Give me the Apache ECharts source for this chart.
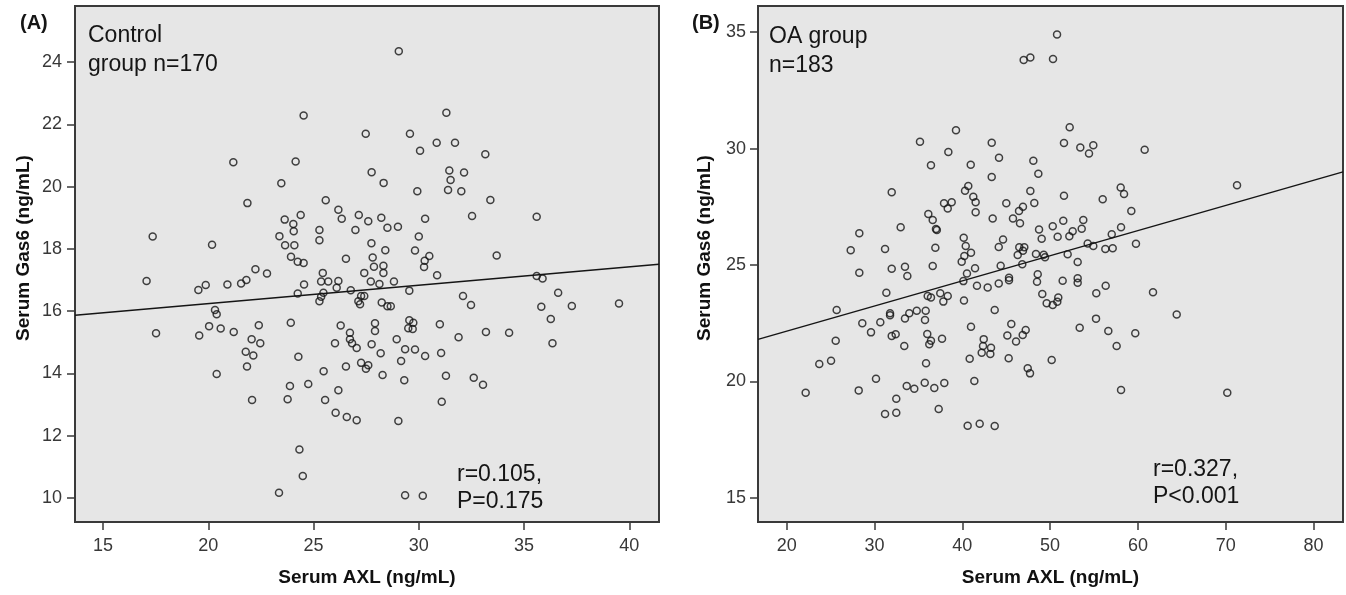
<!DOCTYPE html>
<html>
<head>
<meta charset="utf-8">
<script src="https://cdn.jsdelivr.net/npm/echarts@6/dist/echarts.min.js"></script>
<style>
html, body {margin:0; padding:0; background:#fff;}
#chart {width:1346px; height:595px;}
</style>
</head>
<body>
<div id="chart"></div>
<script>
// (A) control group, n=170
let axlA = [
    24.53,27.48,21.19,24.15,27.76,23.47,21.86,25.58,26.18,26.34,27.15,27.60,26.99,24.39,23.63,24.04,24.06,25.28,25.28,23.38,
    23.65,24.09,17.36,20.18,27.75,23.93,24.25,24.53,26.54,27.81,27.87,22.24,22.79,25.44,27.41,
    29.05,31.31,29.58,30.85,31.72,30.06,33.16,28.33,31.45,32.15,31.51,31.39,32.02,29.93,33.40,32.53,35.60,28.22,28.51,29.01,
    30.30,30.00,28.41,29.82,30.50,30.28,30.25,33.70,28.32,28.32,30.87,
    17.07,19.53,19.88,20.91,21.56,21.81,24.25,24.55,25.36,25.70,25.28,25.36,25.47,26.18,26.10,26.77,27.72,27.26,27.13,27.21,
    27.41,20.32,20.40,17.52,19.57,20.04,20.59,21.21,22.40,22.06,22.47,21.78,22.14,21.84,20.40,23.92,24.28,23.88,23.77,22.08,
    24.75,25.48,25.55,26.18,26.05,26.58,27.05,26.54,27.26,27.49,27.60,26.02,26.29,26.73,26.73,26.83,27.05,27.76,27.92,27.92,
    24.33,24.49,23.36,
    35.60,35.88,36.62,35.82,37.27,39.51,36.27,36.35,34.29,33.19,31.89,32.10,32.48,29.55,28.82,28.13,28.24,28.51,28.67,29.55,
    29.74,29.50,29.71,31.00,28.95,28.19,29.35,29.82,30.30,31.06,29.16,28.28,29.31,31.29,32.61,33.05,31.09,29.03,29.35,30.19
];
let gas6A = [
    22.28,21.70,20.78,20.81,20.46,20.11,19.47,19.56,19.26,18.97,19.09,18.89,18.61,19.09,18.94,18.80,18.57,18.61,18.28,18.41,
    18.12,18.12,18.40,18.13,18.18,17.75,17.59,17.55,17.68,17.72,17.43,17.35,17.21,17.23,17.23,
    24.35,22.37,21.70,21.41,21.41,21.15,21.04,20.12,20.52,20.45,20.21,19.89,19.85,19.85,19.57,19.06,19.03,19.00,18.68,18.71,
    18.97,18.40,17.96,17.95,17.77,17.62,17.42,17.79,17.46,17.23,17.15,
    16.97,16.68,16.84,16.86,16.89,17.00,16.57,16.86,16.95,16.95,16.32,16.46,16.59,16.97,16.75,16.67,16.95,16.49,16.32,16.22,
    16.49,16.04,15.90,15.29,15.22,15.52,15.44,15.33,15.55,15.10,14.97,14.70,14.58,14.22,13.98,15.63,14.54,13.60,13.17,13.15,
    13.66,14.07,13.15,13.46,12.74,12.60,12.50,14.22,14.34,14.15,14.26,14.97,15.54,15.31,15.10,14.97,14.82,14.94,15.61,15.36,
    11.56,10.71,10.17,
    17.13,17.05,16.59,16.14,16.17,16.25,15.75,14.97,15.31,15.33,15.16,16.49,16.20,16.66,16.95,16.87,16.28,16.16,16.16,15.71,
    15.63,15.45,15.43,15.58,15.10,14.65,14.78,14.77,14.56,14.66,14.40,13.95,13.78,13.93,13.86,13.64,13.09,12.47,10.09,10.07
];
let fitA = [[13.67, 15.87], [41.41, 17.51]];
let xTicksA = [15, 20, 25, 30, 35, 40];
let yTicksA = [10, 12, 14, 16, 18, 20, 22, 24];

// (B) OA group, n=183
let axlB = [
    46.99,47.75,39.28,35.18,43.35,38.41,44.18,36.43,40.96,48.09,48.66,43.35,40.68,40.31,31.96,47.75,41.25,41.52,41.52,37.92,
    38.79,38.34,45.01,48.20,46.91,46.46,45.77,46.57,43.46,36.13,36.63,37.00,37.10,32.98,28.27,27.29,31.20,36.93,40.16,40.39,
    40.99,40.23,39.93,44.64,44.15,46.49,47.06,46.91,46.31,48.74,49.04,50.30,48.39,49.27,49.42,36.63,33.47,31.96,28.27,41.45,
    44.37,46.83,48.59,33.74,
    50.79,50.33,52.23,51.58,53.44,54.92,54.43,60.77,71.29,51.58,58.04,58.42,55.99,59.25,51.50,50.86,52.19,52.57,53.78,53.60,
    58.08,57.02,54.28,54.92,56.29,57.13,59.78,52.00,53.14,
    40.53,40.12,41.67,42.89,44.15,45.32,45.32,48.51,49.11,31.35,25.69,28.61,29.60,30.66,31.77,31.77,31.96,32.41,33.39,33.47,
    33.96,34.81,35.83,35.75,36.06,36.43,37.49,37.84,38.34,36.01,36.43,36.24,37.69,35.87,40.19,43.69,40.99,42.44,42.36,42.21,
    43.27,43.19,40.84,45.58,45.13,46.12,46.88,47.22,45.28,47.45,47.71,50.18,41.37,22.16,23.71,25.05,25.58,28.20,30.17,31.20,
    32.48,32.48,33.67,34.53,35.72,36.81,37.95,37.31,40.61,41.98,43.69,
    51.43,53.14,53.14,56.33,55.26,61.72,64.42,49.61,50.30,50.93,50.82,53.37,55.23,56.63,59.70,57.58,58.08,70.18
];
let gas6B = [
    33.80,33.91,30.79,30.29,30.25,29.85,29.61,29.28,29.31,29.48,28.92,28.78,28.39,28.19,28.13,28.18,27.93,27.70,27.27,27.65,
    27.70,27.43,27.65,27.66,27.50,27.32,27.00,26.79,27.00,27.19,26.93,26.55,26.50,26.62,26.36,25.64,25.69,25.74,26.17,25.82,
    25.53,25.39,25.14,26.10,25.77,25.76,25.76,25.61,25.43,26.53,26.13,26.67,25.47,25.44,25.33,24.96,24.93,24.84,24.67,24.86,
    24.97,25.03,24.61,24.53,
    34.90,33.85,30.92,30.24,30.05,30.14,29.79,29.95,28.43,27.97,28.33,28.05,27.82,27.32,26.90,26.21,26.24,26.45,26.93,26.56,
    26.62,26.32,25.93,25.82,25.69,25.72,25.91,25.46,25.13,
    24.64,24.31,24.11,24.04,24.21,24.45,24.35,24.28,23.76,23.81,23.07,22.50,22.11,22.54,22.93,22.85,21.95,22.03,21.52,22.71,
    22.93,23.04,23.04,22.64,23.67,23.61,23.79,23.43,23.67,22.04,21.75,21.60,21.84,20.78,23.48,23.07,22.35,21.82,21.52,21.24,
    21.45,21.18,20.98,22.47,21.98,21.72,22.00,22.21,21.00,20.57,20.35,20.92,20.02,19.52,20.75,20.89,21.75,19.62,20.12,18.61,
    19.26,18.66,19.81,19.69,19.95,19.72,19.94,18.82,18.10,18.19,18.09,
    24.33,24.43,24.24,24.11,23.79,23.83,22.88,23.36,23.28,23.61,23.42,22.31,22.70,22.17,22.07,21.52,19.64,19.52
];
let fitB = [[16.73, 21.81], [83.36, 29.0]];
let xTicksB = [20, 30, 40, 50, 60, 70, 80];
let yTicksB = [15, 20, 25, 30, 35];

let font = 'Liberation Sans, Arial, sans-serif';
let chart = echarts.init(document.getElementById('chart'));

function pairs(xs, ys) {
    return xs.map(function (x, i) { return [x, ys[i]]; });
}

function xAxisOf(idx, min, max, ticks) {
    return {
        type: 'value', gridIndex: idx, min: min, max: max,
        name: 'Serum AXL (ng/mL)', nameLocation: 'middle', nameGap: 46,
        nameTextStyle: {fontFamily: font, fontSize: 19, fontWeight: 'bold', color: '#111'},
        axisLine: {show: true, lineStyle: {color: '#3a3a3a', width: 2}},
        axisTick: {show: true, length: 8, customValues: ticks, lineStyle: {color: '#3a3a3a', width: 1.5}},
        axisLabel: {customValues: ticks, margin: 15, fontFamily: font, fontSize: 18, color: '#383838'},
        splitLine: {show: false}
    };
}

function yAxisOf(idx, min, max, ticks, gap, margin) {
    return {
        type: 'value', gridIndex: idx, min: min, max: max,
        name: 'Serum Gas6 (ng/mL)', nameLocation: 'middle', nameGap: gap,
        // shifted up a little, the original sits above the middle
        nameTextStyle: {fontFamily: font, fontSize: 19, fontWeight: 'bold', color: '#111', padding: [0, 0, 0, 32]},
        axisLine: {show: true, lineStyle: {color: '#3a3a3a', width: 2}},
        axisTick: {show: true, length: 8, customValues: ticks, lineStyle: {color: '#3a3a3a', width: 1.5}},
        axisLabel: {customValues: ticks, margin: margin, fontFamily: font, fontSize: 18, color: '#383838'},
        splitLine: {show: false}
    };
}

function dots(idx, data) {
    return {
        type: 'scatter', xAxisIndex: idx, yAxisIndex: idx, data: data,
        symbol: 'circle', symbolSize: 7, silent: true,
        itemStyle: {color: 'rgba(0,0,0,0)', borderColor: '#151515', borderWidth: 1.5}
    };
}

function fitLine(idx, data) {
    return {
        type: 'line', xAxisIndex: idx, yAxisIndex: idx, data: data,
        symbol: 'none', silent: true,
        lineStyle: {color: '#151515', width: 1.5}
    };
}

function label(x, y, text, size, bold, lh) {
    return {
        type: 'text', left: x, top: y, silent: true,
        style: {text: text, fontFamily: font, fontSize: size, fontWeight: bold ? 'bold' : 'normal',
                fill: '#151515', lineHeight: lh}
    };
}

let gridStyle = {show: true, backgroundColor: '#e6e6e6', borderColor: '#3a3a3a', borderWidth: 2};

chart.setOption({
    animation: false,
    grid: [
        Object.assign({left: 75, top: 6, width: 584, height: 516}, gridStyle),
        Object.assign({left: 758, top: 6, width: 585, height: 516}, gridStyle)
    ],
    xAxis: [
        xAxisOf(0, 13.67, 41.41, xTicksA),
        xAxisOf(1, 16.73, 83.36, xTicksB)
    ],
    yAxis: [
        yAxisOf(0, 9.23, 25.80, yTicksA, 42, 13),
        yAxisOf(1, 13.97, 36.12, yTicksB, 44, 12)
    ],
    series: [
        dots(0, pairs(axlA, gas6A)),
        fitLine(0, fitA),
        dots(1, pairs(axlB, gas6B)),
        fitLine(1, fitB)
    ],
    graphic: [
        label(20, 12, '(A)', 20, true, 22),
        label(88, 21, 'Control\ngroup n=170', 23, false, 29),
        label(457, 461, 'r=0.105,\nP=0.175', 23, false, 27),
        label(692, 12, '(B)', 20, true, 22),
        label(769, 22, 'OA group\nn=183', 23, false, 29),
        label(1153, 456, 'r=0.327,\nP<0.001', 23, false, 27)
    ]
});
</script>
</body>
</html>
